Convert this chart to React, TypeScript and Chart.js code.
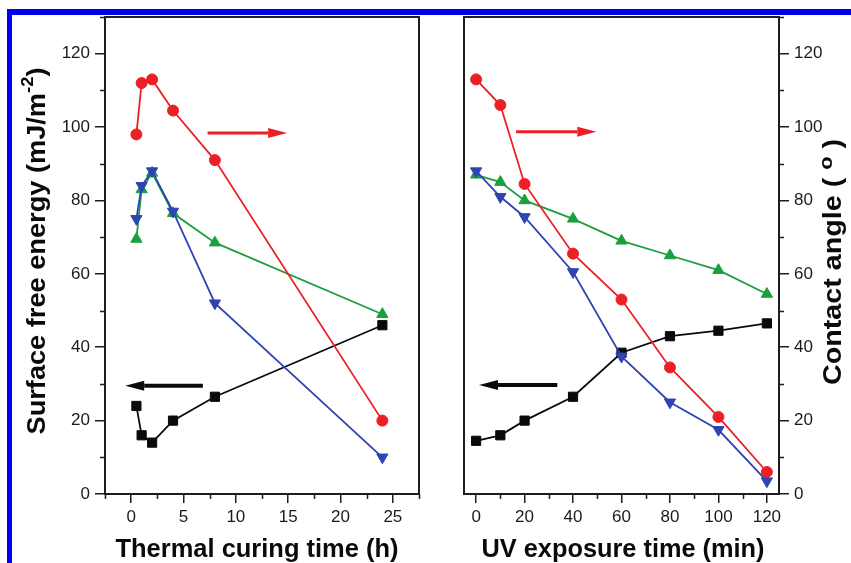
import { useEffect, useRef } from 'react';
import { Chart, registerables } from 'chart.js';

Chart.register(...registerables);

// ---------- data ----------
const THERMAL_TIME_H = [0.5, 1, 2, 4, 8, 24];
const THERMAL_RED = [98, 112, 113, 104.5, 91, 20];
const THERMAL_BLUE = [75, 84, 88, 77, 52, 10];
const THERMAL_GREEN = [69.5, 83, 87.5, 76.5, 68.5, 49];
const THERMAL_SFE = [24, 16, 14, 20, 26.5, 46];

const UV_TIME_MIN = [0, 10, 20, 40, 60, 80, 100, 120];
const UV_RED = [113, 106, 84.5, 65.5, 53, 34.5, 21, 6];
const UV_BLUE = [88, 81, 75.5, 60.5, 37.5, 25, 17.5, 3.5];
const UV_GREEN = [87, 85, 80, 75, 69, 65, 61, 54.5];
const UV_SFE = [14.5, 16, 20, 26.5, 38.5, 43, 44.5, 46.5];

const THERMAL_X_TICKS = [0, 5, 10, 15, 20, 25];
const UV_X_TICKS = [0, 20, 40, 60, 80, 100, 120];
const Y_TICKS = [0, 20, 40, 60, 80, 100, 120];

// arrows: [from x, to x (tip), at y] in data units
const THERMAL_RED_ARROW = [7.3, 14.9, 98.4];
const THERMAL_BLACK_ARROW = [6.85, -0.57, 29.5];
const UV_RED_ARROW = [16.5, 49.6, 98.7];
const UV_BLACK_ARROW = [33.5, 1.2, 29.7];

// ---------- styles ----------
const RED = '#ec1f26';
const BLUE = '#2f44b4';
const GREEN = '#1c9f3e';
const BLACK = '#0a0a0a';
const AXIS = '#1e1e1e';
const FONT = '"Liberation Sans", Arial, Helvetica, sans-serif';

type Part = { text: string; size: number; rise: number };

function drawRich(ctx: CanvasRenderingContext2D, parts: Part[], x: number, y: number, rot: number, target: number) {
  ctx.save();
  let total = 0;
  const widths = parts.map((p) => {
    ctx.font = `bold ${p.size}px ${FONT}`;
    const w = ctx.measureText(p.text).width;
    total += w;
    return w;
  });
  const s = target / total;
  ctx.translate(x, y);
  ctx.rotate(rot);
  ctx.scale(s, 1);
  ctx.fillStyle = '#0a0a0a';
  ctx.textBaseline = 'alphabetic';
  ctx.textAlign = 'left';
  let cx = -total / 2;
  parts.forEach((p, i) => {
    ctx.font = `bold ${p.size}px ${FONT}`;
    ctx.fillText(p.text, cx, -p.rise);
    cx += widths[i];
  });
  ctx.restore();
}

function minorValues(ticks: number[], min: number, max: number) {
  const step = ticks[1] - ticks[0];
  const out: number[] = [];
  for (let v = ticks[0] - step / 2; v <= max + 1e-9; v += step) {
    if (v >= min - 1e-9) out.push(v);
  }
  return out;
}

function makeFramePlugin(cfg: {
  side: 'left' | 'right';
  xTicks: number[];
  arrows: { a: number[]; color: string; width: number }[];
  xTitle: { parts: Part[]; cx: number; base: number; len: number };
  yTitle: { parts: Part[]; base: number; cy: number; len: number };
}) {
  return {
    id: 'frame_' + cfg.side,
    afterDatasetsDraw(chart: any) {
      const { ctx, chartArea: a, scales } = chart;
      const xs = scales.x;
      const ys = scales.y;
      ctx.save();
      // arrows
      cfg.arrows.forEach(({ a: arr, color, width }) => {
        const x1 = xs.getPixelForValue(arr[0]);
        const x2 = xs.getPixelForValue(arr[1]);
        const yy = ys.getPixelForValue(arr[2]);
        const dir = Math.sign(x2 - x1);
        const head = 19;
        const half = 5;
        ctx.strokeStyle = color;
        ctx.fillStyle = color;
        ctx.lineWidth = width;
        ctx.beginPath();
        ctx.moveTo(x1, yy);
        ctx.lineTo(x2 - dir * head, yy);
        ctx.stroke();
        ctx.beginPath();
        ctx.moveTo(x2, yy);
        ctx.lineTo(x2 - dir * head, yy - half);
        ctx.lineTo(x2 - dir * head, yy + half);
        ctx.closePath();
        ctx.fill();
      });
      ctx.restore();
    },
    afterDraw(chart: any) {
      const { ctx, chartArea: a, scales } = chart;
      const xs = scales.x;
      const ys = scales.y;
      ctx.save();
      ctx.strokeStyle = AXIS;
      ctx.lineWidth = 2;
      ctx.strokeRect(a.left, a.top, a.right - a.left, a.bottom - a.top);
      // minor ticks
      ctx.lineWidth = 1.5;
      ctx.beginPath();
      minorValues(cfg.xTicks, xs.min, xs.max).forEach((v) => {
        const px = Math.round(xs.getPixelForValue(v)) + 0.5;
        ctx.moveTo(px, a.bottom);
        ctx.lineTo(px, a.bottom + 5);
      });
      minorValues(Y_TICKS, ys.min, ys.max).forEach((v) => {
        const py = Math.round(ys.getPixelForValue(v)) + 0.5;
        if (cfg.side === 'left') {
          ctx.moveTo(a.left - 5, py);
          ctx.lineTo(a.left, py);
        } else {
          ctx.moveTo(a.right, py);
          ctx.lineTo(a.right + 5, py);
        }
      });
      ctx.stroke();
      ctx.restore();
      drawRich(ctx, cfg.xTitle.parts, cfg.xTitle.cx, cfg.xTitle.base, 0, cfg.xTitle.len);
      drawRich(ctx, cfg.yTitle.parts, cfg.yTitle.base, cfg.yTitle.cy, -Math.PI / 2, cfg.yTitle.len);
    },
  };
}

function series(label: string, xs: number[], ys: number[], color: string, style: string, radius: number, rotation = 0) {
  return {
    label,
    data: xs.map((x, i) => ({ x, y: ys[i] })),
    borderColor: color,
    backgroundColor: color,
    borderWidth: 1.8,
    pointStyle: style,
    pointRadius: radius,
    pointRotation: rotation,
    pointBorderWidth: 1,
    pointBorderColor: color,
    pointBackgroundColor: color,
    showLine: true,
    tension: 0,
  };
}

function makeConfig(opts: {
  xs: number[];
  red: number[];
  blue: number[];
  green: number[];
  sfe: number[];
  xMin: number;
  xMax: number;
  xTicks: number[];
  side: 'left' | 'right';
  padding: any;
  yWidth: number;
  plugin: any;
}) {
  const tickFont = { family: FONT, size: 17 };
  return {
    type: 'scatter' as const,
    data: {
      datasets: [
        series('blue', opts.xs, opts.blue, BLUE, 'triangle', 6.5, 180),
        series('red', opts.xs, opts.red, RED, 'circle', 5.5),
        series('green', opts.xs, opts.green, GREEN, 'triangle', 6.5),
        series('sfe', opts.xs, opts.sfe, BLACK, 'rect', 6.5),
      ],
    },
    options: {
      animation: false,
      responsive: false,
      devicePixelRatio: 1,
      events: [],
      layout: { padding: opts.padding },
      plugins: { legend: { display: false }, tooltip: { enabled: false } },
      scales: {
        x: {
          type: 'linear',
          position: 'bottom',
          min: opts.xMin,
          max: opts.xMax,
          afterBuildTicks: (s: any) => {
            s.ticks = opts.xTicks.map((v) => ({ value: v }));
          },
          afterFit: (s: any) => {
            s.height = 69;
          },
          grid: { display: true, drawOnChartArea: false, drawTicks: true, tickLength: 9, color: AXIS, lineWidth: 1.5 },
          border: { display: false },
          ticks: { font: tickFont, color: '#1a1a1a', padding: 4, maxRotation: 0, autoSkip: false },
        },
        y: {
          type: 'linear',
          position: opts.side,
          min: 0,
          max: 130,
          afterBuildTicks: (s: any) => {
            s.ticks = Y_TICKS.map((v) => ({ value: v }));
          },
          afterFit: (s: any) => {
            s.width = opts.yWidth;
          },
          grid: { display: true, drawOnChartArea: false, drawTicks: true, tickLength: 10, color: AXIS, lineWidth: 1.5 },
          border: { display: false },
          ticks: { font: tickFont, color: '#1a1a1a', padding: 5, autoSkip: false },
        },
      },
    },
    plugins: [opts.plugin],
  };
}

export default function App() {
  const leftRef = useRef<HTMLCanvasElement>(null);
  const rightRef = useRef<HTMLCanvasElement>(null);

  useEffect(() => {
    const leftPlugin = makeFramePlugin({
      side: 'left',
      xTicks: THERMAL_X_TICKS,
      arrows: [
        { a: THERMAL_RED_ARROW, color: RED, width: 3 },
        { a: THERMAL_BLACK_ARROW, color: BLACK, width: 4 },
      ],
      xTitle: { parts: [{ text: 'Thermal curing time (h)', size: 25, rise: 0 }], cx: 257, base: 557, len: 283 },
      yTitle: {
        parts: [
          { text: 'Surface free energy (mJ/m', size: 25, rise: 0 },
          { text: '-2', size: 17, rise: 12 },
          { text: ')', size: 25, rise: 0 },
        ],
        base: 45,
        cy: 251,
        len: 367,
      },
    });
    const rightPlugin = makeFramePlugin({
      side: 'right',
      xTicks: UV_X_TICKS,
      arrows: [
        { a: UV_RED_ARROW, color: RED, width: 3 },
        { a: UV_BLACK_ARROW, color: BLACK, width: 4 },
      ],
      xTitle: { parts: [{ text: 'UV exposure time (min)', size: 25, rise: 0 }], cx: 623, base: 557, len: 283 },
      yTitle: {
        parts: [
          { text: 'Contact angle ( ', size: 25, rise: 0 },
          { text: 'o', size: 19, rise: 9 },
          { text: ' )', size: 25, rise: 0 },
        ],
        base: 841,
        cy: 262,
        len: 246,
      },
    });

    const c1 = new Chart(
      leftRef.current!,
      makeConfig({
        xs: THERMAL_TIME_H,
        red: THERMAL_RED,
        blue: THERMAL_BLUE,
        green: THERMAL_GREEN,
        sfe: THERMAL_SFE,
        xMin: -2.5,
        xMax: 27.5,
        xTicks: THERMAL_X_TICKS,
        side: 'left',
        padding: { left: 0, top: 17, right: 432, bottom: 0 },
        yWidth: 105,
        plugin: leftPlugin,
      }) as any
    );
    const c2 = new Chart(
      rightRef.current!,
      makeConfig({
        xs: UV_TIME_MIN,
        red: UV_RED,
        blue: UV_BLUE,
        green: UV_GREEN,
        sfe: UV_SFE,
        xMin: -5,
        xMax: 125,
        xTicks: UV_X_TICKS,
        side: 'right',
        padding: { left: 464, top: 17, right: 0, bottom: 0 },
        yWidth: 72,
        plugin: rightPlugin,
      }) as any
    );
    return () => {
      c1.destroy();
      c2.destroy();
    };
  }, []);

  return (
    <div style={{ position: 'fixed', left: 0, top: 0, width: 851, height: 563, background: '#fff', overflow: 'hidden' }}>
      <canvas ref={leftRef} width={851} height={563} style={{ position: 'absolute', left: 0, top: 0 }} />
      <canvas ref={rightRef} width={851} height={563} style={{ position: 'absolute', left: 0, top: 0 }} />
      <div style={{ position: 'absolute', left: 7, top: 9, width: 844, height: 6, background: '#0000f0' }} />
      <div style={{ position: 'absolute', left: 7, top: 9, width: 5, height: 554, background: '#0000f0' }} />
    </div>
  );
}
